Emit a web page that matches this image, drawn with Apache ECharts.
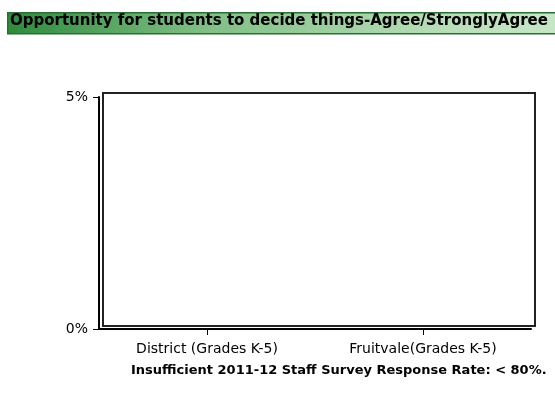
<!DOCTYPE html>
<html>
<head>
<meta charset="utf-8">
<script src="https://cdn.jsdelivr.net/npm/echarts@6/dist/echarts.min.js"></script>
<style>
html,body{margin:0;padding:0;background:#fff;}
#c{width:555px;height:401px;}
</style>
</head>
<body>
<div id="c"></div>
<script>
const titleText = 'Opportunity for students to decide things-Agree/StronglyAgree';
const footnote = 'Insufficient 2011-12 Staff Survey Response Rate: < 80%.';
const categories = ['District (Grades K-5)', 'Fruitvale(Grades K-5)'];
const values = [0, 0];
const yMin = 0, yMax = 5, yInterval = 5;

const chart = echarts.init(document.getElementById('c'), null, {renderer: 'canvas'});
chart.setOption({
  animation: false,
  backgroundColor: '#fff',
  graphic: [
    {
      type: 'rect', left: 7, top: 12,
      shape: {width: 560, height: 21},
      style: {
        fill: new echarts.graphic.LinearGradient(0, 0, 1, 0, [
          {offset: 0, color: '#2f8a3c'},
          {offset: 0.35, color: '#7fbf84'},
          {offset: 0.75, color: '#b5dcb5'},
          {offset: 1, color: '#c9e8c9'}
        ]),
        stroke: '#2a6e33', lineWidth: 1.5
      }
    },
    {
      type: 'text', left: 10, top: 14,
      style: {text: titleText, fontFamily: 'DejaVu Sans', fontWeight: 'bold', fontSize: 15, fill: '#000'}
    },
    {
      type: 'text', left: 131, top: 364,
      style: {text: footnote, fontFamily: 'DejaVu Sans', fontWeight: 'bold', fontSize: 13, fill: '#000'}
    }
  ],
  grid: [
    {left: 103, top: 93, width: 432, height: 233, show: true, borderColor: '#222', borderWidth: 2, backgroundColor: '#fff', containLabel: false},
    {left: 99, top: 97, width: 432, height: 232, containLabel: false}
  ],
  xAxis: [
    {type: 'category', gridIndex: 0, data: categories, show: false},
    {
      type: 'category', gridIndex: 1, data: categories,
      axisLine: {show: true, lineStyle: {color: '#000', width: 2}},
      axisTick: {show: true, alignWithLabel: true, length: 6, lineStyle: {color: '#000'}},
      axisLabel: {fontFamily: 'DejaVu Sans', fontSize: 14, color: '#000', margin: 13},
      splitLine: {show: false}
    }
  ],
  yAxis: [
    {type: 'value', gridIndex: 0, min: yMin, max: yMax, interval: yInterval, show: false, splitLine: {show: false}},
    {
      type: 'value', gridIndex: 1, min: yMin, max: yMax, interval: yInterval,
      axisLine: {show: true, lineStyle: {color: '#000', width: 2}},
      axisTick: {show: true, length: 6, lineStyle: {color: '#000'}},
      axisLabel: {fontFamily: 'DejaVu Sans', fontSize: 14, color: '#000', margin: 11, formatter: '{value}%'},
      splitLine: {show: false}
    }
  ],
  series: [
    {type: 'bar', xAxisIndex: 1, yAxisIndex: 1, data: values, barWidth: '40%', itemStyle: {color: '#3c9a48'}}
  ]
});
</script>
</body>
</html>
